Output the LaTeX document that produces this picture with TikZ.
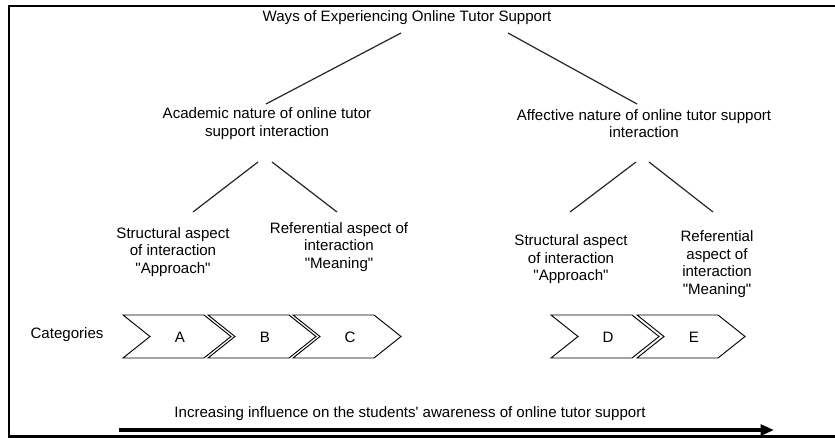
\documentclass[tikz,border=0pt]{standalone}
\usepackage{fontspec}
\setmainfont{Liberation Sans}
\usetikzlibrary{arrows.meta,calc}
\tikzset{
  label text/.style={inner sep=0pt, align=center, font=\fontsize{11.3}{13.2}\selectfont},
  branch line/.style={line width=0.9pt, draw=black!85},
  category box/.style={line width=0.7pt, line join=miter},
}
\begin{document}
\begin{tikzpicture}[x=0.75pt,y=-0.75pt]
  \useasboundingbox (0,0) rectangle (835,438);

  % Drawing frame
  \draw [line width=1.6pt] (835,6) -- (9,6) -- (9,436.5) -- (835,436.5);

  % Marking title and natures
  \node [label text] (title) at (407,18) {Ways of Experiencing Online Tutor Support};
  \node [label text] (acad) at (267,123.5) {Academic nature of online tutor\\support interaction};
  \node [label text] (affect) at (644,123.5) {Affective nature of online tutor support\\interaction};

  % Marking aspects
  \node [label text] (acadstruct) at (173,252) {Structural aspect\\of interaction\\\textquotedbl Approach\textquotedbl};
  \node [label text] (acadref) at (339,247) {Referential aspect of\\interaction\\\textquotedbl Meaning\textquotedbl};
  \node [label text] (affstruct) at (571,259.5) {Structural aspect\\of interaction\\\textquotedbl Approach\textquotedbl};
  \node [label text] (affref) at (717,264) {Referential\\aspect of\\interaction\\\textquotedbl Meaning\textquotedbl};

  % Drawing lines from title
  \draw [branch line] ($(title)+(-6,15)$) -- ($(acad)+(-1,-19.5)$);
  \draw [branch line] ($(title)+(101,15)$) -- ($(affect)+(-7,-19.5)$);

  % Drawing lines from academic nature
  \draw [branch line] ($(acad)+(-9,38.5)$) -- ($(acadstruct)+(20,-40)$);
  \draw [branch line] ($(acad)+(5,38.5)$) -- ($(acadref)+(-2,-35)$);

  % Drawing lines from affective nature
  \draw [branch line] ($(affect)+(-8,38.5)$) -- ($(affstruct)+(-1,-47.5)$);
  \draw [branch line] ($(affect)+(5,38.5)$) -- ($(affref)+(-4,-52)$);

  % Marking categories
  \node [label text] (categories) at (67,335) {Categories};
  \foreach \x/\cat in {123/A,208/B,293/C,551/D,637/E} {
    \draw [category box] (\x,315) -- ++(81,0) -- ++(27,21.5) -- ++(-27,21.5)
      -- ++(-81,0) -- ++(27,-21.5) -- cycle;
    \node [label text] (cat\cat) at (\x+57,337) {\cat};
  }

  % Drawing influence arrow
  \node [label text] (influence) at (410,414) {Increasing influence on the students\textquotesingle{} awareness of online tutor support};
  \coordinate (influence start) at (119,430);
  \coordinate (influence end) at (774,430);
  \draw [line width=2.6pt, -{Triangle[length=10pt,width=8pt]}] (influence start) -- (influence end);
\end{tikzpicture}
\end{document}
